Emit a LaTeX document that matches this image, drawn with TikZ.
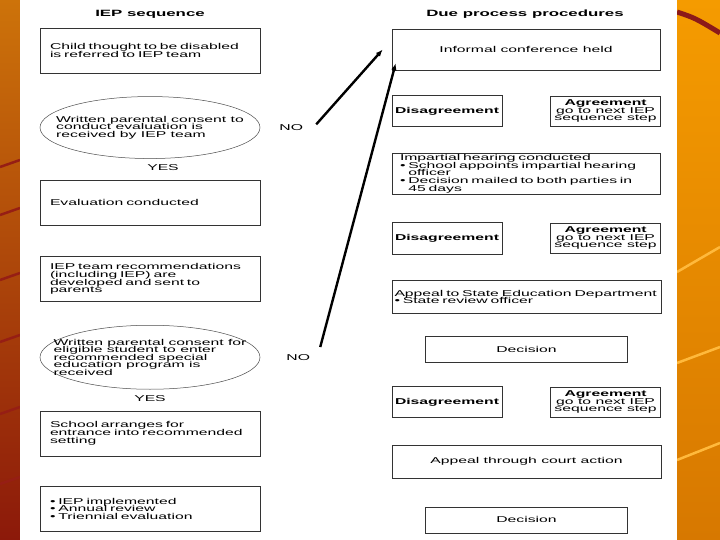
\documentclass[tikz,border=0pt]{standalone}
\usepackage{fontspec}
\newfontfamily\scanfont[FakeStretch=1.85]{Liberation Sans}
\usepackage{xcolor}
\usetikzlibrary{arrows.meta, positioning, shapes.geometric, calc}

\newcommand{\scansize}{\scanfont\fontsize{8.5}{7.6}\selectfont\lineskiplimit=-10pt\lineskip=0pt}
\definecolor{stripdark}{RGB}{140,25,10}
\definecolor{striptop}{RGB}{205,115,10}
\definecolor{stripred}{RGB}{150,30,20}
\definecolor{slideorange}{RGB}{245,155,0}
\definecolor{slidedeep}{RGB}{215,120,0}
\definecolor{swoosh}{RGB}{140,25,25}
\definecolor{streak}{RGB}{255,185,60}

\begin{document}
\begin{tikzpicture}[
  x=1pt, y=-1pt,
  every node/.style={font=\scansize, inner sep=0pt},
  heading/.style={font=\scanfont\bfseries\fontsize{9.1}{10}\selectfont},
  answer/.style={font=\scansize},
  stepbox/.style={draw=black!80, line width=0.6pt, minimum width=220pt, minimum height=45pt, text width=200pt, align=left},
  consent/.style={draw=black!70, line width=0.5pt, ellipse, minimum width=220pt, minimum height=62pt, inner xsep=-22pt, align=left},
  dpbox/.style={draw=black!80, line width=0.6pt, minimum width=268pt, minimum height=41pt, align=center},
  disbox/.style={draw=black!80, line width=0.6pt, minimum width=110pt, minimum height=31pt, font=\scansize\bfseries},
  agrbox/.style={draw=black!80, line width=0.6pt, minimum width=110pt, minimum height=30pt, align=center},
  decbox/.style={draw=black!80, line width=0.6pt, minimum width=202pt, minimum height=26pt},
  arr/.style={-{Latex[length=7pt, width=5.5pt]}, line width=2.4pt}
]
  \useasboundingbox (0,0) rectangle (720,540);

  % slide background
  \shade[top color=striptop, bottom color=stripdark] (0,0) rectangle (20,540);
  \foreach \y in {160,208,273,335,407,477}
    \draw[stripred, line width=2.5pt] (0,\y+7) -- (20,\y);
  \shade[top color=slideorange, bottom color=slidedeep] (677,0) rectangle (720,540);
  \draw[streak, line width=2.5pt] (677,272) -- (720,247);
  \draw[streak, line width=2.5pt] (677,363) -- (720,347);
  \draw[streak, line width=2.5pt] (677,460) -- (720,443);
  \draw[swoosh, line width=5pt] (677,12) .. controls (695,18) .. (720,33);
  \fill[white] (20,0) rectangle (677,540);

  % IEP sequence
  \node[heading] (seqtitle) at (150,14) {IEP sequence};
  \node[stepbox] (referred) at (150,50.5) {Child thought to be disabled\\is referred to IEP team};
  \node[consent, below=23pt of referred] (evalconsent) {Written parental consent to\\conduct evaluation is\\received by IEP team};
  \node[answer, below=6pt of evalconsent, xshift=13pt] (yes1) {YES};
  \node[answer, right=19pt of evalconsent] (no1) {NO};
  \node[stepbox, below=21pt of evalconsent] (evaluation) {Evaluation conducted};
  \node[stepbox, below=31pt of evaluation] (recommend) {IEP team recommendations\\(including IEP) are\\developed and sent to\\parents};
  \node[consent, minimum height=64pt, below=23pt of recommend] (placeconsent) {Written parental consent for\\eligible student to enter\\recommended special\\education program is\\received};
  \node[answer, below=6pt of placeconsent] (yes2) {YES};
  \node[answer, right=26pt of placeconsent] (no2) {NO};
  \node[stepbox, below=21pt of placeconsent] (entrance) {School arranges for\\entrance into recommended\\setting};
  \node[stepbox, below=30pt of entrance] (implemented) {\textbullet\ IEP implemented\\\textbullet\ Annual review\\\textbullet\ Triennial evaluation};

  % due process procedures
  \node[heading] (duetitle) at (525,14) {Due process procedures};
  \node[dpbox] (informal) at (526,49.5) {Informal conference held};
  \node[disbox, below=25pt of informal.south west, anchor=north west] (disagree1) {Disagreement};
  \node[agrbox, right=48pt of disagree1] (agree1) {\textbf{Agreement}\\go to next IEP\\sequence step};
  \node[dpbox, text width=252pt, align=left, below=26pt of disagree1.south west, anchor=north west] (hearing) {Impartial hearing conducted\\\textbullet\ School appoints impartial hearing\\\phantom{\textbullet\ }officer\\\textbullet\ Decision mailed to both parties in\\\phantom{\textbullet\ }45 days};
  \node[disbox, below=28pt of hearing.south west, anchor=north west] (disagree2) {Disagreement};
  \node[agrbox, right=48pt of disagree2] (agree2) {\textbf{Agreement}\\go to next IEP\\sequence step};
  \node[dpbox, minimum width=269pt, minimum height=33pt, text width=264pt, align=left, below=26pt of disagree2.south west, anchor=north west] (stateappeal) {Appeal to State Education Department\\\textbullet\ State review officer};
  \node[decbox, below=22pt of stateappeal] (decision1) {Decision};
  \node[disbox, anchor=north west, yshift=-24pt] (disagree3) at (disagree2.west |- decision1.south) {Disagreement};
  \node[agrbox, right=48pt of disagree3] (agree3) {\textbf{Agreement}\\go to next IEP\\sequence step};
  \node[dpbox, minimum width=269pt, minimum height=33pt, below=27pt of disagree3.south west, anchor=north west] (court) {Appeal through court action};
  \node[decbox, below=28pt of court] (decision2) {Decision};

  % NO answers lead back to the conference
  \draw[arr] ([xshift=13pt]no1.north east) -- ([xshift=-9pt]informal.west);
  \draw[arr] ([xshift=10pt, yshift=7pt]no2.north east) -- ([xshift=4pt, yshift=7pt]informal.south west);
\end{tikzpicture}
\end{document}
